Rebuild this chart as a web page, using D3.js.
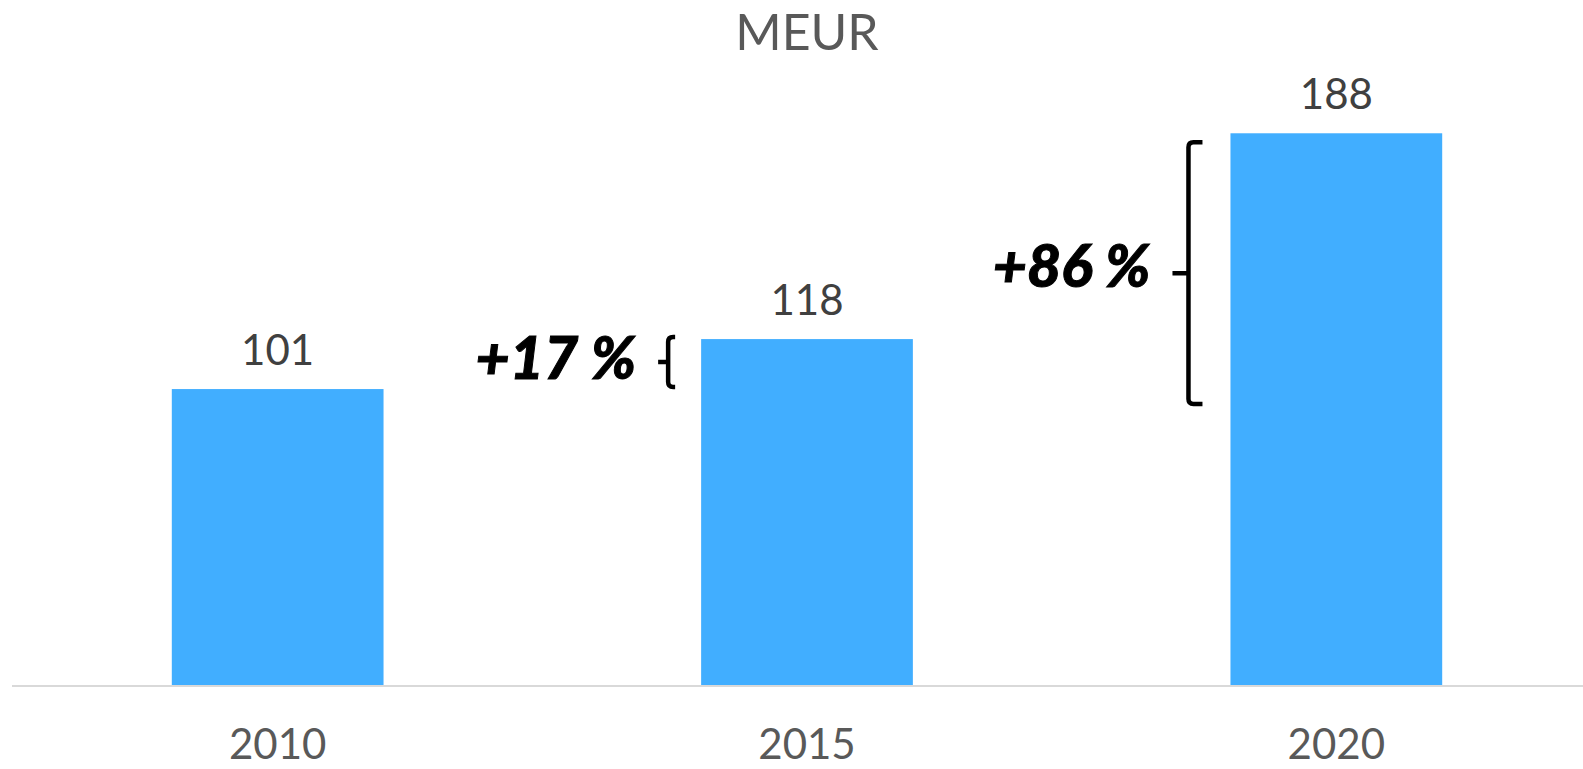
<!DOCTYPE html>
<html>
<head>
<meta charset="utf-8">
<script src="https://cdn.jsdelivr.net/npm/d3@7"></script>
<style>
  body { margin: 0; background: white; overflow: hidden; }
  text { font-family: Lato, "Open Sans", sans-serif; }
</style>
</head>
<body>
<div id="chart"></div>
<script>
// data
var years = ["2010", "2015", "2020"];
var values = [101, 118, 188];
var title = "MEUR";
// growth annotations: label, from value, to value, target year
var growthLabels = ["+17 %", "+86 %"];
var growthFrom = [101, 101];
var growthTo = [118, 188];
var growthYear = ["2015", "2020"];

var width = 1583;
var height = 769;

var svg = d3.select("#chart")
    .append("svg")
    .attr("width", width)
    .attr("height", height);

// scales
var x = d3.scaleBand()
    .domain(years)
    .range([13, 1601])
    .paddingInner(0.6)
    .paddingOuter(0.3);

var y = d3.scaleLinear()
    .domain([0, 200])
    .range([686, 98]);

// title
svg.append("text")
    .attr("x", 807)
    .attr("y", 50)
    .attr("text-anchor", "middle")
    .style("font-size", "50px")
    .style("fill", "#595959")
    .text(title);

// bars
svg.selectAll(".bar")
    .data(values)
    .enter()
    .append("rect")
    .attr("class", "bar")
    .attr("x", (d, i) => x(years[i]))
    .attr("y", d => y(d))
    .attr("width", x.bandwidth())
    .attr("height", d => y(0) - y(d))
    .attr("fill", "#41aeff");

// value labels
svg.selectAll(".val")
    .data(values)
    .enter()
    .append("text")
    .attr("class", "val")
    .attr("x", (d, i) => x(years[i]) + x.bandwidth() / 2)
    .attr("y", d => y(d) - 24)
    .attr("text-anchor", "middle")
    .style("font-size", "42px")
    .style("fill", "#404040")
    .text(d => d);

// x axis
var xAxis = svg.append("g")
    .attr("transform", `translate(0, ${y(0)})`)
    .call(d3.axisBottom(x).tickSize(0).tickPadding(73));
xAxis.select(".domain")
    .attr("d", `M12,0H${width}`)
    .attr("stroke", "#d9d9d9")
    .attr("stroke-width", 2);
xAxis.selectAll("text")
    .style("font-family", "Lato, sans-serif")
    .style("font-size", "42px")
    .style("fill", "#595959")
    .attr("dy", "0");

// growth brackets
growthLabels.forEach(function (label, i) {
    var bx = x(growthYear[i]);
    var big = i === 1;
    var vx = bx - (big ? 42 : 33);
    var top = y(growthTo[i]) + (big ? 9 : -2);
    var bottom = y(growthFrom[i]) + (big ? 15 : -2);
    var mid = (top + bottom) / 2;
    var w = big ? 14 : 7;
    var r = 5;
    var p = d3.path();
    p.moveTo(vx + w, top);
    p.lineTo(vx + r, top);
    p.quadraticCurveTo(vx, top, vx, top + r);
    p.lineTo(vx, bottom - r);
    p.quadraticCurveTo(vx, bottom, vx + r, bottom);
    p.lineTo(vx + w, bottom);
    p.moveTo(vx - (big ? 16 : 10), mid);
    p.lineTo(vx, mid);
    svg.append("path")
        .attr("d", p.toString())
        .attr("fill", "none")
        .attr("stroke", "black")
        .attr("stroke-width", 4.5);

    svg.append("text")
        .attr("x", vx - (big ? 38 : 32))
        .attr("y", mid + (big ? 14 : 17))
        .attr("text-anchor", "end")
        .style("font-size", "59px")
        .style("font-weight", "900")
        .style("font-style", "italic")
        .style("fill", "black")
        .style("stroke", "black")
        .style("stroke-width", 1)
        .text(label);
});
</script>
</body>
</html>
